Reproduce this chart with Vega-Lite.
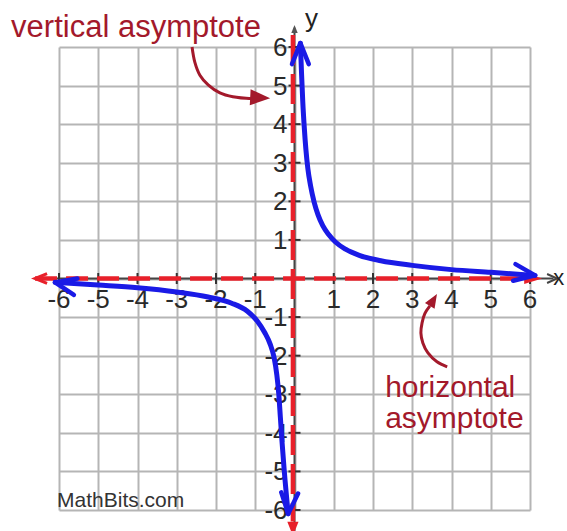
{
  "$schema": "https://vega.github.io/schema/vega-lite/v6.json",
  "width": 471,
  "height": 463,
  "autosize": {"type": "none"},
  "padding": {"left": 59, "top": 47, "right": 37, "bottom": 21},
  "background": "white",
  "config": {"view": {"stroke": null}, "font": "Liberation Sans"},
  "encoding": {
    "x": {"field": "x", "type": "quantitative", "scale": {"domain": [-6, 6], "nice": false, "zero": false},
      "axis": {"values": [-6,-5,-4,-3,-2,-1,0,1,2,3,4,5,6], "grid": true, "labels": false, "ticks": false, "domain": false, "title": null, "gridColor": "#b5b5b5", "gridWidth": 2, "gridOpacity": 1}},
    "y": {"field": "y", "type": "quantitative", "scale": {"domain": [-6, 6], "nice": false, "zero": false},
      "axis": {"values": [-6,-5,-4,-3,-2,-1,0,1,2,3,4,5,6], "grid": true, "labels": false, "ticks": false, "domain": false, "title": null, "gridColor": "#b5b5b5", "gridWidth": 2, "gridOpacity": 1}}
  },
  "layer": [
    {
      "data": {"values": [
        {"x": -6, "y": 0, "t": "-6"}, {"x": -5, "y": 0, "t": "-5"}, {"x": -4, "y": 0, "t": "-4"},
        {"x": -3, "y": 0, "t": "-3"}, {"x": -2, "y": 0, "t": "-2"}, {"x": -1, "y": 0, "t": "-1"},
        {"x": 1, "y": 0, "t": "1"}, {"x": 2, "y": 0, "t": "2"}, {"x": 3, "y": 0, "t": "3"},
        {"x": 4, "y": 0, "t": "4"}, {"x": 5, "y": 0, "t": "5"}, {"x": 6, "y": 0, "t": "6"}
      ]},
      "mark": {"type": "text", "fontSize": 26, "color": "#2a2a2a", "align": "center", "baseline": "alphabetic", "dy": 29},
      "encoding": {"text": {"field": "t"}}
    },
    {
      "data": {"values": [
        {"x": 0, "y": 6, "t": "6"}, {"x": 0, "y": 5, "t": "5"}, {"x": 0, "y": 4, "t": "4"},
        {"x": 0, "y": 3, "t": "3"}, {"x": 0, "y": 2, "t": "2"}, {"x": 0, "y": 1, "t": "1"},
        {"x": 0, "y": -1, "t": "-1"}, {"x": 0, "y": -2, "t": "-2"}, {"x": 0, "y": -3, "t": "-3"},
        {"x": 0, "y": -4, "t": "-4"}, {"x": 0, "y": -5, "t": "-5"}, {"x": 0, "y": -6, "t": "-6"}
      ]},
      "mark": {"type": "text", "fontSize": 26, "color": "#2a2a2a", "align": "right", "baseline": "alphabetic", "dx": -7, "dy": 9},
      "encoding": {"text": {"field": "t"}}
    },
    {
      "data": {"values": [{"x": -6.56, "x2": 6.6, "y": 0}]},
      "mark": {"type": "rule", "color": "#444444", "strokeWidth": 2},
      "encoding": {"x2": {"field": "x2"}}
    },
    {
      "data": {"values": [{"x": 0, "y": -6.6, "y2": 6.5}]},
      "mark": {"type": "rule", "color": "#444444", "strokeWidth": 2},
      "encoding": {"y2": {"field": "y2"}}
    },
    {
      "data": {"values": [
        {"x": -6, "y": 0}, {"x": -5, "y": 0}, {"x": -4, "y": 0}, {"x": -3, "y": 0}, {"x": -2, "y": 0}, {"x": -1, "y": 0},
        {"x": 1, "y": 0}, {"x": 2, "y": 0}, {"x": 3, "y": 0}, {"x": 4, "y": 0}, {"x": 5, "y": 0}, {"x": 6, "y": 0}
      ]},
      "mark": {"type": "tick", "orient": "vertical", "size": 11, "thickness": 2, "color": "#333333", "opacity": 1}
    },
    {
      "data": {"values": [
        {"x": 0, "y": -6}, {"x": 0, "y": -5}, {"x": 0, "y": -4}, {"x": 0, "y": -3}, {"x": 0, "y": -2}, {"x": 0, "y": -1},
        {"x": 0, "y": 1}, {"x": 0, "y": 2}, {"x": 0, "y": 3}, {"x": 0, "y": 4}, {"x": 0, "y": 5}, {"x": 0, "y": 6}
      ]},
      "mark": {"type": "tick", "orient": "horizontal", "size": 12, "thickness": 2, "color": "#333333", "opacity": 1}
    },
    {
      "data": {"values": [{"x": -6.61, "x2": 6.1, "y": 0}]},
      "mark": {"type": "rule", "color": "#e8202a", "strokeWidth": 4.5, "strokeDash": [22, 9]},
      "encoding": {"x2": {"field": "x2"}}
    },
    {
      "data": {"values": [{"x": -0.04, "y": 6.31, "y2": -6.3}]},
      "mark": {"type": "rule", "color": "#e8202a", "strokeWidth": 4.5, "strokeDash": [30, 9]},
      "encoding": {"y2": {"field": "y2"}}
    },
    {
      "data": {"values": [{"x": -6.61, "y": 0}]},
      "mark": {"type": "point", "shape": "M -0.8 2 L 0 0 L 0.8 2", "size": 144, "angle": 270, "filled": false, "color": "#e8202a", "strokeWidth": 3, "opacity": 1}
    },
    {
      "data": {"values": [{"x": 6.31, "y": 0}]},
      "mark": {"type": "point", "shape": "M 0 0 L -0.6 2 L 0.6 2 Z", "size": 324, "angle": 90, "filled": true, "color": "#e8202a", "opacity": 1}
    },
    {
      "data": {"values": [{"x": -0.04, "y": -6.67}]},
      "mark": {"type": "point", "shape": "M 0 0 L -0.8 2 L 0.8 2 Z", "size": 196, "angle": 180, "filled": true, "color": "#e8202a", "opacity": 1}
    },
    {
      "data": {"values": [{"x": 6.69, "y": 0}]},
      "mark": {"type": "point", "shape": "M -0.9 2 L 0 0 L 0.9 2", "size": 100, "angle": 90, "filled": false, "color": "#444444", "strokeWidth": 2, "opacity": 1}
    },
    {
      "data": {"values": [{"x": 0, "y": 6.57}]},
      "mark": {"type": "point", "shape": "M 0 0 L -0.8 2 L 0.8 2 Z", "size": 64, "angle": 0, "filled": true, "color": "#555555", "opacity": 1}
    },
    {
      "data": {"values": [
        {"b": "right", "x": 0.15, "y": 6.1},
        {"b": "right", "x": 0.18, "y": 5.3},
        {"b": "right", "x": 0.21, "y": 4.6},
        {"b": "right", "x": 0.25, "y": 3.9},
        {"b": "right", "x": 0.29, "y": 3.35},
        {"b": "right", "x": 0.34, "y": 2.85},
        {"b": "right", "x": 0.41, "y": 2.4},
        {"b": "right", "x": 0.5, "y": 1.98},
        {"b": "right", "x": 0.6, "y": 1.65},
        {"b": "right", "x": 0.72, "y": 1.37},
        {"b": "right", "x": 0.87, "y": 1.14},
        {"b": "right", "x": 1.05, "y": 0.94},
        {"b": "right", "x": 1.3, "y": 0.76},
        {"b": "right", "x": 1.65, "y": 0.6},
        {"b": "right", "x": 2.2, "y": 0.46},
        {"b": "right", "x": 3.0, "y": 0.34},
        {"b": "right", "x": 4.0, "y": 0.23},
        {"b": "right", "x": 5.0, "y": 0.16},
        {"b": "right", "x": 6.13, "y": 0.08},
        {"b": "left", "x": -6.1, "y": -0.1},
        {"b": "left", "x": -5.0, "y": -0.17},
        {"b": "left", "x": -4.0, "y": -0.24},
        {"b": "left", "x": -3.0, "y": -0.35},
        {"b": "left", "x": -2.2, "y": -0.48},
        {"b": "left", "x": -1.6, "y": -0.64},
        {"b": "left", "x": -1.2, "y": -0.85},
        {"b": "left", "x": -0.95, "y": -1.1},
        {"b": "left", "x": -0.76, "y": -1.4},
        {"b": "left", "x": -0.62, "y": -1.7},
        {"b": "left", "x": -0.52, "y": -2.05},
        {"b": "left", "x": -0.45, "y": -2.5},
        {"b": "left", "x": -0.4, "y": -3.0},
        {"b": "left", "x": -0.36, "y": -3.6},
        {"b": "left", "x": -0.32, "y": -4.2},
        {"b": "left", "x": -0.26, "y": -5.0},
        {"b": "left", "x": -0.16, "y": -6.1}
      ]},
      "mark": {"type": "line", "color": "#1a1ae6", "strokeWidth": 5, "interpolate": "monotone", "strokeCap": "round", "strokeJoin": "round"},
      "encoding": {"detail": {"field": "b"}}
    },
    {
      "data": {"values": [{"x": 0.15, "y": 6.1}]},
      "mark": {"type": "point", "shape": "M -0.8 2 L 0 0 L 0.8 2", "size": 441, "angle": 0, "filled": false, "color": "#1a1ae6", "strokeWidth": 4.5, "strokeCap": "round", "strokeJoin": "round", "opacity": 1}
    },
    {
      "data": {"values": [{"x": 6.13, "y": 0.08}]},
      "mark": {"type": "point", "shape": "M -0.8 2 L 0 0 L 0.8 2", "size": 441, "angle": 98, "filled": false, "color": "#1a1ae6", "strokeWidth": 4.5, "strokeCap": "round", "strokeJoin": "round", "opacity": 1}
    },
    {
      "data": {"values": [{"x": -6.1, "y": -0.1}]},
      "mark": {"type": "point", "shape": "M -0.8 2 L 0 0 L 0.8 2", "size": 441, "angle": 282, "filled": false, "color": "#1a1ae6", "strokeWidth": 4.5, "strokeCap": "round", "strokeJoin": "round", "opacity": 1}
    },
    {
      "data": {"values": [{"x": -0.16, "y": -6.1}]},
      "mark": {"type": "point", "shape": "M -0.8 2 L 0 0 L 0.8 2", "size": 441, "angle": 184, "filled": false, "color": "#1a1ae6", "strokeWidth": 4.5, "strokeCap": "round", "strokeJoin": "round", "opacity": 1}
    },
    {
      "data": {"values": [
        {"i": 1, "x": -2.61, "y": 6.0},
        {"i": 2, "x": -2.54, "y": 5.61},
        {"i": 3, "x": -2.41, "y": 5.27},
        {"i": 4, "x": -2.2, "y": 5.02},
        {"i": 5, "x": -1.9, "y": 4.81},
        {"i": 6, "x": -1.57, "y": 4.71},
        {"i": 7, "x": -1.08, "y": 4.66},
        {"i": 8, "x": -0.85, "y": 4.66}
      ]},
      "mark": {"type": "line", "color": "#a3192b", "strokeWidth": 3, "interpolate": "catmull-rom"},
      "encoding": {"order": {"field": "i", "type": "quantitative"}}
    },
    {
      "data": {"values": [{"x": -0.62, "y": 4.67}]},
      "mark": {"type": "point", "shape": "M 0 0 L -0.8 2 L 0.8 2 Z", "size": 400, "angle": 93, "filled": true, "color": "#a3192b", "opacity": 1}
    },
    {
      "data": {"values": [
        {"i": 1, "x": 3.89, "y": -2.29},
        {"i": 2, "x": 3.63, "y": -2.16},
        {"i": 3, "x": 3.4, "y": -1.93},
        {"i": 4, "x": 3.27, "y": -1.67},
        {"i": 5, "x": 3.22, "y": -1.41},
        {"i": 6, "x": 3.25, "y": -1.15},
        {"i": 7, "x": 3.32, "y": -0.91},
        {"i": 8, "x": 3.45, "y": -0.71}
      ]},
      "mark": {"type": "line", "color": "#a3192b", "strokeWidth": 3, "interpolate": "catmull-rom"},
      "encoding": {"order": {"field": "i", "type": "quantitative"}}
    },
    {
      "data": {"values": [{"x": 3.63, "y": -0.4}]},
      "mark": {"type": "point", "shape": "M 0 0 L -0.8 2 L 0.8 2 Z", "size": 196, "angle": 31, "filled": true, "color": "#a3192b", "opacity": 1}
    },
    {
      "data": {"values": [
        {"x": -7.22, "y": 6.26, "t": "vertical asymptote"}
      ]},
      "mark": {"type": "text", "fontSize": 31, "color": "#a3192b", "align": "left", "baseline": "alphabetic"},
      "encoding": {"text": {"field": "t"}}
    },
    {
      "data": {"values": [
        {"x": 2.31, "y": -3.07, "t": "horizontal"},
        {"x": 2.31, "y": -3.87, "t": "asymptote"}
      ]},
      "mark": {"type": "text", "fontSize": 30, "color": "#a3192b", "align": "left", "baseline": "alphabetic"},
      "encoding": {"text": {"field": "t"}}
    },
    {
      "data": {"values": [{"x": -6.05, "y": -5.92, "t": "MathBits.com"}]},
      "mark": {"type": "text", "fontSize": 21, "color": "#333333", "align": "left", "baseline": "alphabetic"},
      "encoding": {"text": {"field": "t"}}
    },
    {
      "data": {"values": [{"x": 0.27, "y": 6.52, "t": "y"}]},
      "mark": {"type": "text", "fontSize": 26, "color": "#222222", "align": "left", "baseline": "alphabetic"},
      "encoding": {"text": {"field": "t"}}
    },
    {
      "data": {"values": [{"x": 6.59, "y": -0.17, "t": "x"}]},
      "mark": {"type": "text", "fontSize": 22, "color": "#222222", "align": "left", "baseline": "alphabetic"},
      "encoding": {"text": {"field": "t"}}
    }
  ]
}
